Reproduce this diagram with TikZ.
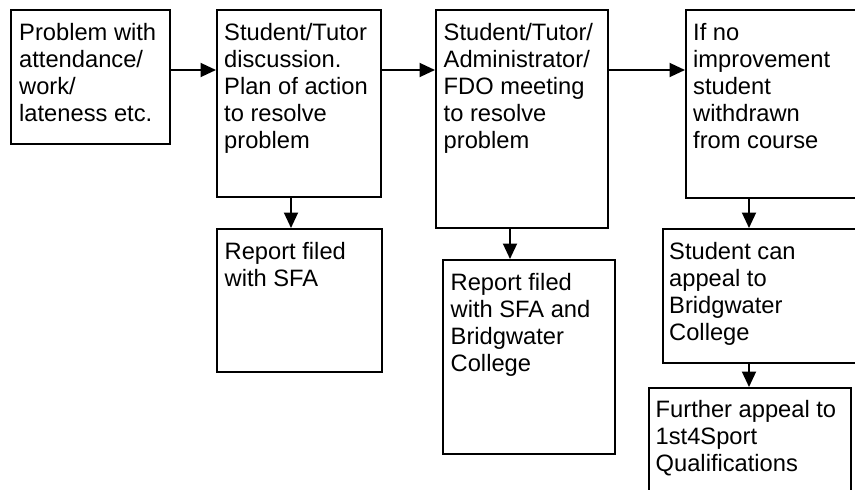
\documentclass[tikz,border=0pt]{standalone}
\usepackage{fontspec}
\setmainfont{Liberation Sans}
\usetikzlibrary{arrows.meta,positioning,calc}
\tikzset{
  box/.style={draw=black, line width=1.9pt, rectangle, inner sep=0pt, anchor=north west},
  txt/.style={anchor=north west, inner sep=0pt, align=left, font=\fontsize{23.7}{27}\selectfont},
  arr/.style={line width=1.9pt, -{Triangle[length=15.5pt,width=14pt]}}
}
\begin{document}
\begin{tikzpicture}[x=1pt,y=-1pt]
\useasboundingbox (0,0) rectangle (855,490);
\clip (0,0) rectangle (855,490);
\fill[white] (0,0) rectangle (855,490);
% boxes
\node[box, minimum width=159pt, minimum height=134pt] (b1) at (10,9) {};
\node[box, minimum width=164pt, minimum height=187pt] (b2) at (216,9) {};
\node[box, minimum width=172pt, minimum height=218pt] (b3) at (435,9) {};
\node[box, minimum width=180pt, minimum height=188pt] (b4) at (685,9) {};
\node[box, minimum width=165pt, minimum height=143pt] (b5) at (216,228) {};
\node[box, minimum width=172pt, minimum height=194pt] (b6) at (442,259) {};
\node[box, minimum width=200pt, minimum height=134pt] (b7) at (662,228) {};
\node[box, minimum width=202pt, minimum height=120pt] (b8) at (648,387) {};
% texts
\node[txt] (t1) at ([xshift=9pt,yshift=-12pt]b1.north west) {\strut Problem with\\attendance/\\work/\\lateness etc.};
\node[txt] (t2) at ([xshift=8pt,yshift=-12pt]b2.north west) {\strut Student/Tutor\\discussion.\\Plan of action\\to resolve\\problem};
\node[txt] (t3) at ([xshift=8.5pt,yshift=-12pt]b3.north west) {\strut Student/Tutor/\\Administrator/\\FDO meeting\\to resolve\\problem};
\node[txt] (t4) at ([xshift=8pt,yshift=-12pt]b4.north west) {\strut If no\\improvement\\student\\withdrawn\\from course};
\node[txt] (t5) at ([xshift=8.5pt,yshift=-12pt]b5.north west) {\strut Report filed\\with SFA};
\node[txt] (t6) at ([xshift=8.5pt,yshift=-12pt]b6.north west) {\strut Report filed\\with SFA and\\Bridgwater\\College};
\node[txt] (t7) at ([xshift=7pt,yshift=-12pt]b7.north west) {\strut Student can\\appeal to\\Bridgwater\\College};
\node[txt] (t8) at ([xshift=7.5pt,yshift=-11pt]b8.north west) {\strut Further appeal to\\1st4Sport\\Qualifications};
% reference lines for connectors
\coordinate (rowy) at (0,70);
\coordinate (c25) at (291,0);
\coordinate (c36) at (510,0);
\coordinate (c47) at (749,0);
% connectors
\draw[arr] (b1.east |- rowy) -- (b2.west |- rowy);
\draw[arr] (b2.east |- rowy) -- (b3.west |- rowy);
\draw[arr] (b3.east |- rowy) -- (b4.west |- rowy);
\draw[arr] (c25 |- b2.south) -- (c25 |- b5.north);
\draw[arr] (c36 |- b3.south) -- (c36 |- b6.north);
\draw[arr] (c47 |- b4.south) -- (c47 |- b7.north);
\draw[arr] (c47 |- b7.south) -- (c47 |- b8.north);
\end{tikzpicture}
\end{document}
